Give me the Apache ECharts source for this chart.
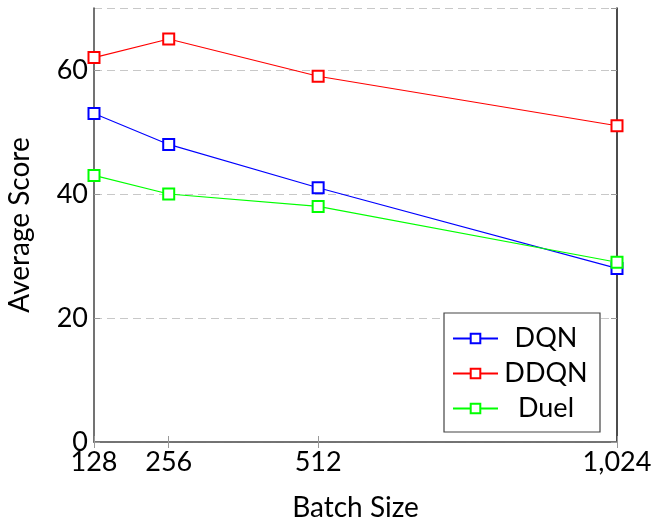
<!DOCTYPE html>
<html>
<head>
    <meta charset="UTF-8">
    <script type="text/javascript" src="https://cdn.jsdelivr.net/npm/echarts@6/dist/echarts.min.js"></script>
</head>
<style>
    body { margin: 0; padding: 0; background: #fff; }
</style>
<body>
<div id="main" style="width: 652px;height:521px;"></div>
<script>
    var batchSizes = [128, 256, 512, 1024]
    var dqn = [53, 48, 41, 28]
    var ddqn = [62, 65, 59, 51]
    var duel = [43, 40, 38, 29]

    var FONT = 'Lato'
    var chart = echarts.init(document.getElementById('main'));

    function pairs(vals) {
        return batchSizes.map(function (b, i) { return [b, vals[i]] })
    }

    function fmtX(v) {
        return v >= 1000 ? Math.floor(v / 1000) + ',' + String(v % 1000).padStart(3, '0') : String(v)
    }

    function makeSeries(name, color, vals) {
        return {
            name: name,
            type: 'line',
            data: pairs(vals),
            symbol: 'emptyRect',
            symbolSize: 11,
            color: color,
            lineStyle: {color: color, width: 1.1},
            itemStyle: {color: color, borderColor: color, borderWidth: 1.2},
            emphasis: {disabled: true},
            animation: false
        }
    }

    var option = {
        animation: false,
        grid: {left: 94, right: 35, top: 8, bottom: 79, outerBoundsMode: 'none', containLabel: false},
        xAxis: [
            {
                type: 'value',
                min: 128,
                max: 1024,
                name: 'Batch Size',
                nameLocation: 'middle',
                nameGap: 52,
                nameTextStyle: {fontFamily: FONT, fontSize: 28, color: '#000'},
                axisLine: {show: true, lineStyle: {color: '#444', width: 1.5}},
                axisTick: {show: true, inside: true, length: 6, customValues: batchSizes, lineStyle: {color: '#999'}},
                axisLabel: {
                    customValues: batchSizes,
                    formatter: fmtX,
                    fontFamily: FONT, fontSize: 27, color: '#000', margin: 7
                },
                splitLine: {show: false}
            },
            {
                type: 'value',
                position: 'top',
                min: 128,
                max: 1024,
                axisLine: {show: true, lineStyle: {color: '#777', width: 1.5}},
                axisTick: {show: true, inside: true, length: 6, customValues: batchSizes, lineStyle: {color: '#999'}},
                axisLabel: {show: false},
                splitLine: {show: false}
            }
        ],
        yAxis: [
            {
                type: 'value',
                min: 0,
                max: 70,
                interval: 20,
                name: 'Average Score',
                nameLocation: 'middle',
                nameGap: 60,
                nameTextStyle: {fontFamily: FONT, fontSize: 28, color: '#000'},
                axisLine: {show: true, lineStyle: {color: '#444', width: 1.5}},
                axisTick: {show: true, inside: true, length: 6, lineStyle: {color: '#999'}},
                axisLabel: {
                    fontFamily: FONT, fontSize: 27, color: '#000', margin: 6,
                    showMaxLabel: false
                },
                splitLine: {show: true, lineStyle: {color: '#c8c8c8', type: [8, 5], width: 1.2}}
            },
            {
                type: 'value',
                position: 'right',
                min: 0,
                max: 70,
                interval: 20,
                axisLine: {show: true, lineStyle: {color: '#111', width: 1.5}},
                axisTick: {show: true, inside: true, length: 6, lineStyle: {color: '#999'}},
                axisLabel: {show: false},
                splitLine: {show: false}
            }
        ],
        legend: {
            orient: 'vertical',
            left: 444,
            top: 313,
            padding: [12, 11, 10, 8],
            itemGap: 8,
            itemWidth: 45,
            itemHeight: 12,
            borderColor: '#444',
            borderWidth: 1.2,
            backgroundColor: '#fff',
            formatter: function (name) { return '{a|' + name + '}' },
            textStyle: {
                fontFamily: FONT, fontSize: 27, color: '#000',
                rich: {a: {fontFamily: FONT, fontSize: 27, width: 86, align: 'center', lineHeight: 30}}
            },
            data: ['DQN', 'DDQN', 'Duel']
        },
        series: [
            makeSeries('DQN', '#0000ff', dqn),
            makeSeries('DDQN', '#ff0000', ddqn),
            makeSeries('Duel', '#00ff00', duel)
        ]
    };
    chart.setOption(option);
</script>
</body>
</html>
